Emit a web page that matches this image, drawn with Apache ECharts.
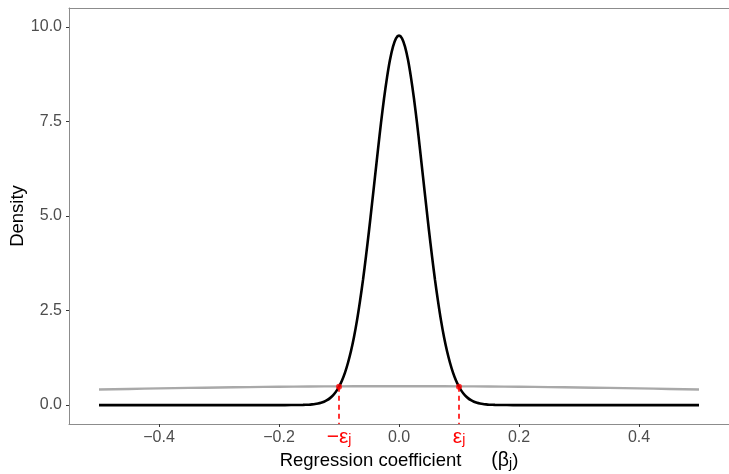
<!DOCTYPE html>
<html>
<head>
<meta charset="utf-8">
<script src="https://cdn.jsdelivr.net/npm/echarts@6/dist/echarts.min.js"></script>
<style>html,body{margin:0;padding:0;background:#fff;}#c{width:729px;height:474px;}</style>
</head>
<body>
<div id="c"></div>
<script>
// Gray (prior) curve
const priorX = [-0.5,-0.45,-0.4,-0.35,-0.3,-0.25,-0.2,-0.15,-0.1,-0.05,0,0.05,0.1,0.15,0.2,0.25,0.3,0.35,0.4,0.45,0.5];
const priorY = [0.411,0.427,0.441,0.454,0.466,0.476,0.485,0.491,0.496,0.499,0.500,0.499,0.496,0.491,0.485,0.476,0.466,0.454,0.441,0.427,0.411];
// Black (posterior) curve
const postX = [-0.5,-0.4,-0.3,-0.25,-0.2,-0.18,
  -0.16,-0.155,-0.15,-0.145,-0.14,-0.135,-0.13,-0.125,-0.12,-0.115,-0.11,-0.105,-0.1,-0.095,-0.09,-0.085,-0.08,-0.075,-0.07,-0.065,-0.06,-0.055,-0.05,-0.045,-0.04,-0.035,-0.03,-0.025,-0.02,-0.015,-0.01,-0.005,
  0,
  0.005,0.01,0.015,0.02,0.025,0.03,0.035,0.04,0.045,0.05,0.055,0.06,0.065,0.07,0.075,0.08,0.085,0.09,0.095,0.1,0.105,0.11,0.115,0.12,0.125,0.13,0.135,0.14,0.145,0.15,0.155,0.16,
  0.18,0.2,0.25,0.3,0.4,0.5];
const postY = [0,0,0,0,0,0.0006,
  0.0045,0.0072,0.011,0.018,0.027,0.041,0.061,0.090,0.129,0.184,0.258,0.356,0.485,0.650,0.858,1.12,1.43,1.80,2.24,2.75,3.31,3.94,4.61,5.32,6.04,6.76,7.46,8.10,8.66,9.13,9.48,9.70,
  9.77,
  9.70,9.48,9.13,8.66,8.10,7.46,6.76,6.04,5.32,4.61,3.94,3.31,2.75,2.24,1.80,1.43,1.12,0.858,0.650,0.485,0.356,0.258,0.184,0.129,0.090,0.061,0.041,0.027,0.018,0.011,0.0072,0.0045,
  0.0006,0,0,0,0,0];
// Threshold points
const epsX = [-0.1, 0.1];
const epsY = [0.487, 0.487];
const epsLabels = ['−ε', 'ε'];
// Ticks
const xTicks = [-0.4, -0.2, 0, 0.2, 0.4];
const yTicks = [0, 2.5, 5, 7.5, 10];

const FONT = 'Liberation Sans, Arial, Helvetica, sans-serif';
const BORDER = '#8c8c8c';
const fmt = v => (v < 0 ? '−' : '') + Math.abs(v).toFixed(1);

const zip = (xs, ys) => xs.map((x, i) => [x, ys[i]]);
const series = [
  {type: 'line', data: zip(priorX, priorY), showSymbol: false, smooth: true,
   lineStyle: {color: '#a9a9a9', width: 2.4}, z: 2, silent: true},
  {type: 'line', data: zip(postX, postY), showSymbol: false, smooth: 0.3,
   lineStyle: {color: '#000', width: 2.6}, z: 3, silent: true}
];
epsX.forEach((x, i) => {
  series.push({type: 'line', data: [[x, epsY[i]], [x, -0.5]], showSymbol: false,
    lineStyle: {color: '#ff0000', width: 1.6, type: [5, 4]}, z: 4, silent: true});
});
series.push({type: 'scatter', data: zip(epsX, epsY), symbolSize: 6,
  itemStyle: {color: '#ff0000'}, z: 5, silent: true});

const chart = echarts.init(document.getElementById('c'), null, {renderer: 'canvas'});
chart.setOption({
  animation: false,
  backgroundColor: '#fff',
  grid: {left: 69, right: 0, top: 8, bottom: 50, outerBoundsMode: 'none', containLabel: false, show: false},
  xAxis: [
    {type: 'value', min: -0.55, max: 0.55,
     axisLine: {show: true, onZero: false, lineStyle: {color: BORDER, width: 1}},
     axisTick: {show: true, length: 3, lineStyle: {color: '#333'}, customValues: xTicks},
     axisLabel: {customValues: xTicks, formatter: fmt, color: '#4d4d4d', fontSize: 16, fontFamily: FONT, margin: 6},
     splitLine: {show: false},
     name: '{a|Regression coefficient}{p|(β}{s|j}{a|)}', nameLocation: 'middle', nameGap: 27, nameMoveOverlap: false,
     nameTextStyle: {rich: {
       a: {fontSize: 18.5, fontFamily: FONT, color: '#000', lineHeight: 20, verticalAlign: 'top', padding: [0, 0, 4, 0]},
       p: {fontSize: 19.5, fontFamily: FONT, color: '#000', lineHeight: 20, verticalAlign: 'top', padding: [0, 0, 4, 30]},
       s: {fontSize: 14, fontFamily: FONT, color: '#000', lineHeight: 14, verticalAlign: 'bottom'}
     }}},
    {type: 'value', min: -0.55, max: 0.55, position: 'bottom',
     axisLine: {show: false, onZero: false}, axisTick: {show: false}, splitLine: {show: false},
     axisLabel: {customValues: epsX, margin: 3, fontFamily: FONT,
       formatter: v => '{e|' + epsLabels[v < 0 ? 0 : 1] + '}{s|j}',
       rich: {
         e: {fontSize: 21, fontFamily: FONT, color: '#ff0000', lineHeight: 20, verticalAlign: 'top', padding: [0, 0, 4, 0]},
         s: {fontSize: 14, fontFamily: FONT, color: '#ff0000', lineHeight: 14, verticalAlign: 'bottom'}
       }}},
    {type: 'value', min: -0.55, max: 0.55, position: 'top',
     axisLine: {show: true, onZero: false, lineStyle: {color: BORDER, width: 1}},
     axisTick: {show: false}, axisLabel: {show: false}, splitLine: {show: false}}
  ],
  yAxis: {type: 'value', min: -0.5, max: 10.5,
    axisLine: {show: true, onZero: false, lineStyle: {color: BORDER, width: 1}},
    axisTick: {show: true, length: 3, lineStyle: {color: '#333'}, customValues: yTicks},
    axisLabel: {customValues: yTicks, formatter: fmt, color: '#4d4d4d', fontSize: 16, fontFamily: FONT, margin: 7, padding: [3, 0, 0, 0]},
    splitLine: {show: false},
    name: 'Density', nameLocation: 'middle', nameGap: 42, nameMoveOverlap: false,
    nameTextStyle: {fontSize: 18.5, fontFamily: FONT, color: '#000'}},
  series: series
});
</script>
</body>
</html>
